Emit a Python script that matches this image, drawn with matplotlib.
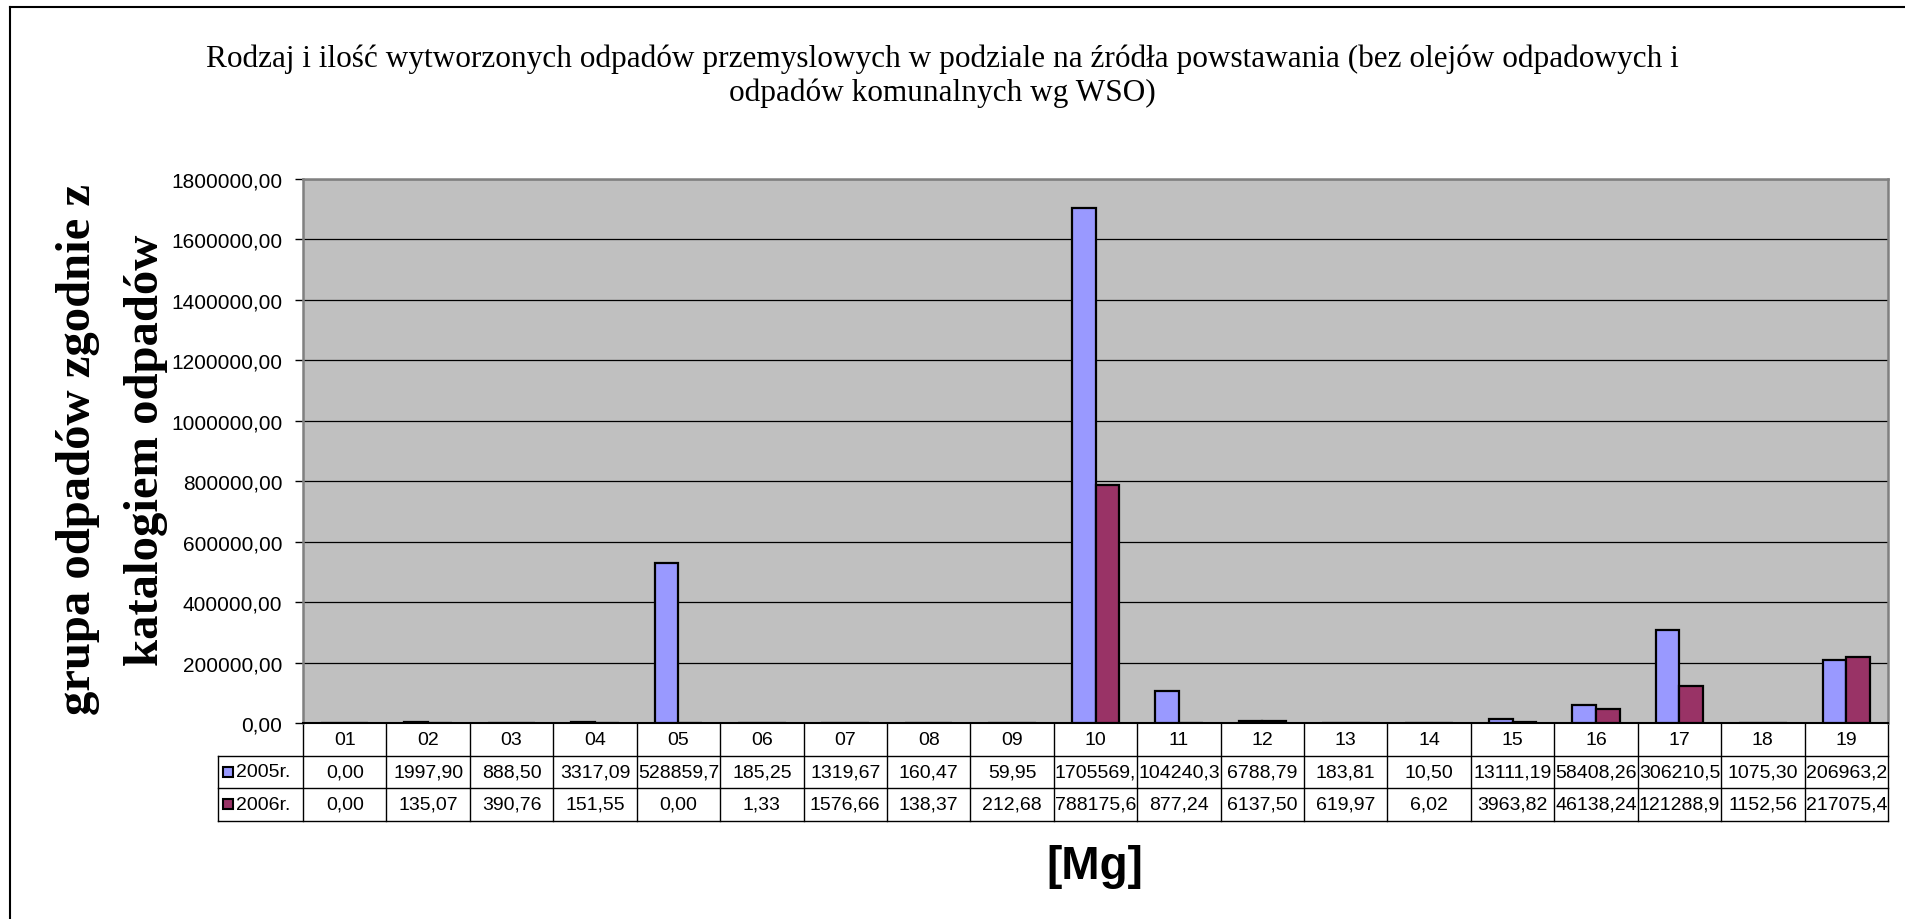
import matplotlib
matplotlib.use("Agg")
import matplotlib.pyplot as plt
from matplotlib.lines import Line2D
import numpy as np

# data
CATEGORIES = ["01", "02", "03", "04", "05", "06", "07", "08", "09", "10",
              "11", "12", "13", "14", "15", "16", "17", "18", "19"]
SERIES = ["2005r.", "2006r."]
VALUES_2005 = [0.00, 1997.90, 888.50, 3317.09, 528859.70, 185.25, 1319.67, 160.47, 59.95,
               1705569.00, 104240.30, 6788.79, 183.81, 10.50, 13111.19, 58408.26,
               306210.50, 1075.30, 206963.20]
VALUES_2006 = [0.00, 135.07, 390.76, 151.55, 0.00, 1.33, 1576.66, 138.37, 212.68,
               788175.60, 877.24, 6137.50, 619.97, 6.02, 3963.82, 46138.24,
               121288.90, 1152.56, 217075.40]
Y_TICKS = [0, 200000, 400000, 600000, 800000, 1000000, 1200000, 1400000, 1600000, 1800000]
COLORS = ["#9999FF", "#993366"]

TITLE = ("Rodzaj i ilość wytworzonych odpadów przemyslowych w podziale na źródła powstawania "
         "(bez olejów odpadowych i\nodpadów komunalnych wg WSO)")
YLABEL = "grupa odpadów zgodnie z\nkatalogiem odpadów"
XLABEL = "[Mg]"

W, H = 1905, 920
SERIF = ["Liberation Serif", "DejaVu Serif"]
SANS = ["Liberation Sans", "DejaVu Sans"]


def fx(px):
    return px / W


def fy(py):
    return 1 - py / H


def fmt(v):
    # excel cells clip the text to 8 characters
    return f"{v:.2f}".replace(".", ",")[:8]


def main():
    fig = plt.figure(figsize=(W / 100, H / 100), dpi=100)
    fig.patch.set_facecolor("white")

    left, right, top, bottom = 303, 1888, 180, 724
    ax = fig.add_axes([fx(left), fy(bottom), (right - left) / W, (bottom - top) / H])
    ax.set_facecolor("#C0C0C0")

    x = np.arange(len(CATEGORIES))
    bw = 0.285
    for k, (vals, col) in enumerate(zip([VALUES_2005, VALUES_2006], COLORS)):
        ax.bar(x - bw + k * bw, vals, width=bw, align="edge", color=col,
               edgecolor="black", linewidth=1.6, zorder=3)

    ax.set_xlim(-0.5, len(CATEGORIES) - 0.5)
    ax.set_ylim(0, 1800000)
    ax.set_yticks(Y_TICKS)
    ax.set_yticklabels([f"{v:.2f}".replace(".", ",") for v in Y_TICKS],
                       fontsize=15, family=SANS)
    ax.tick_params(axis="y", length=6, width=1, pad=9, color="black")
    ax.set_xticks([])
    ax.yaxis.grid(True, color="black", linewidth=0.9, zorder=1)
    ax.set_axisbelow(True)
    for side in ["left", "top", "right"]:
        ax.spines[side].set_color("#808080")
        ax.spines[side].set_linewidth(1.8)
    ax.spines["bottom"].set_color("black")
    ax.spines["bottom"].set_linewidth(1.5)

    # data table below the axis
    trans = ax.get_xaxis_transform()
    rh = 32.5 / (bottom - top)
    n = len(CATEGORIES)
    key_left = -0.5 - (left - 218) / ((right - left) / n)
    lkw = dict(transform=trans, color="black", linewidth=1, clip_on=False)
    for r in range(1, 4):
        ax.add_line(Line2D([key_left, n - 0.5], [-r * rh, -r * rh], **lkw))
    for i in range(n + 1):
        ax.add_line(Line2D([i - 0.5, i - 0.5], [0, -3 * rh], **lkw))
    ax.add_line(Line2D([key_left, key_left], [-rh, -3 * rh], **lkw))

    tkw = dict(transform=trans, ha="center", va="center", fontsize=14,
               family=SANS, clip_on=False)
    for i, c in enumerate(CATEGORIES):
        ax.text(i, -0.5 * rh, c, **tkw)
    for r, (name, vals, col) in enumerate(zip(SERIES, [VALUES_2005, VALUES_2006], COLORS)):
        yc = -(r + 1.5) * rh
        for i, v in enumerate(vals):
            ax.text(i, yc, fmt(v), **tkw)
        ax.plot([key_left + 0.12], [yc], marker="s", markersize=7.5, markerfacecolor=col,
                markeredgecolor="black", markeredgewidth=1.5, transform=trans, clip_on=False)
        ax.text(key_left + 0.22, yc, name, transform=trans, ha="left", va="center",
                fontsize=14, family=SANS, clip_on=False)

    fig.text(fx(942), fy(76), TITLE, ha="center", va="center", fontsize=22.5,
             family=SERIF, linespacing=1.2)
    fig.text(fx(112), fy(450), YLABEL, ha="center", va="center", rotation=90,
             fontsize=35, fontweight="bold", family=SERIF, linespacing=1.7,
             multialignment="center")
    fig.text(fx(1095), fy(867), XLABEL, ha="center", va="center", fontsize=33,
             fontweight="bold", family=SANS)

    # outer chart frame (runs off the right and bottom edges)
    fig.add_artist(Line2D([fx(10), fx(10)], [fy(8), fy(930)], color="black", linewidth=1.5,
                          transform=fig.transFigure))
    fig.add_artist(Line2D([fx(10), fx(1915)], [fy(8), fy(8)], color="black", linewidth=1.5,
                          transform=fig.transFigure))

    fig.savefig("out.png", dpi=100)
    plt.close(fig)


if __name__ == "__main__":
    main()
